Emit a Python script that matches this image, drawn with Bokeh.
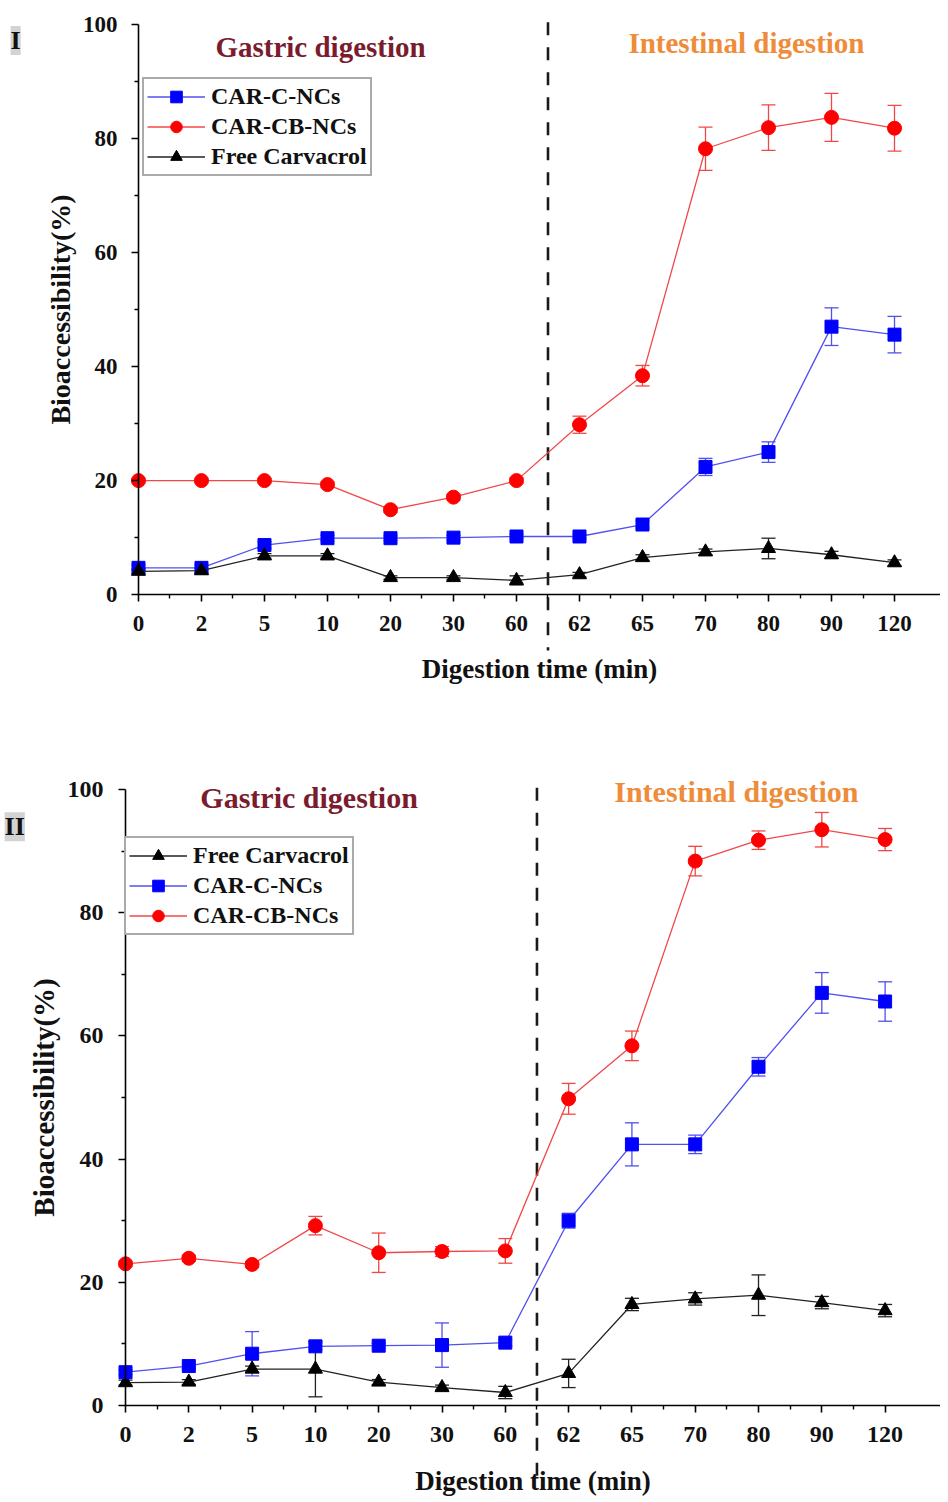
from bokeh.plotting import figure
from bokeh.models import (ColumnDataSource, Range1d, FixedTicker, Whisker, TeeHead,
                          Legend, LegendItem, Label)
from bokeh.layouts import column
from bokeh.embed import file_html
from bokeh.resources import INLINE

# ---------------- data ----------------
time_labels = ["0", "2", "5", "10", "20", "30", "60", "62", "65", "70", "80", "90", "120"]
phase_boundary = 6.5  # between 60 (gastric) and 62 (intestinal)

# Panel I
c_nc_1 = [4.7, 4.7, 8.7, 9.9, 9.9, 10.0, 10.2, 10.2, 12.3, 22.4, 25.0, 47.0, 45.6]
c_nc_1_err = [0.5, 0.5, 0.6, 0.5, 0.4, 0.4, 0.4, 0.4, 0.6, 1.5, 1.8, 3.3, 3.2]
cb_nc_1 = [20.0, 20.0, 20.0, 19.3, 14.9, 17.1, 20.0, 29.8, 38.4, 78.2, 81.9, 83.7, 81.8]
cb_nc_1_err = [0.4, 0.4, 0.4, 0.5, 0.5, 0.5, 0.5, 1.5, 1.8, 3.8, 4.0, 4.2, 4.0]
free_1 = [4.1, 4.2, 6.8, 6.8, 3.0, 3.0, 2.5, 3.5, 6.5, 7.5, 8.1, 7.0, 5.6]
free_1_err = [0.4, 0.4, 0.4, 0.4, 0.3, 0.3, 0.8, 0.4, 0.5, 0.5, 1.8, 0.6, 0.5]

# Panel II
free_2 = [3.7, 3.8, 5.9, 5.9, 3.8, 2.9, 2.1, 5.2, 16.4, 17.3, 17.9, 16.7, 15.4]
free_2_err = [0.4, 0.4, 0.5, 4.5, 0.4, 0.4, 1.0, 2.3, 1.0, 1.0, 3.3, 1.0, 1.0]
c_nc_2 = [5.4, 6.4, 8.4, 9.6, 9.7, 9.8, 10.2, 30.0, 42.4, 42.4, 55.0, 67.0, 65.6]
c_nc_2_err = [0.4, 0.4, 3.6, 0.5, 0.4, 3.6, 0.5, 1.2, 3.5, 1.5, 1.5, 3.3, 3.2]
cb_nc_2 = [23.0, 23.9, 22.9, 29.2, 24.8, 25.0, 25.1, 49.8, 58.4, 88.4, 91.8, 93.5, 91.9]
cb_nc_2_err = [0.4, 0.5, 0.5, 1.5, 3.2, 0.8, 2.0, 2.5, 2.4, 2.4, 1.5, 2.8, 1.8]

y_ticks = [0, 20, 40, 60, 80, 100]
y_minor = [10, 30, 50, 70, 90]

FONT = "Liberation Serif"

STYLE = {
    "CAR-C-NCs": dict(marker="square", color="#0000FF", line="#5050F0", size=13),
    "CAR-CB-NCs": dict(marker="circle", color="#FF0000", line="#F04848", size=14),
    "Free Carvacrol": dict(marker="triangle", color="#000000", line="#222222", size=14),
}


def make_panel(series, order, cfg):
    n = len(time_labels)
    xs = list(range(n))
    p = figure(width=cfg["width"], height=cfg["height"],
               x_range=Range1d(cfg["x_start"], cfg["x_end"]),
               y_range=Range1d(cfg["y_start"], cfg["y_end"]),
               output_backend="svg", toolbar_location=None,
               min_border_left=0, min_border_right=0,
               min_border_top=0, min_border_bottom=0)
    p.title.visible = False
    p.outline_line_color = None
    p.grid.visible = False
    p.background_fill_color = "white"

    # both axes drawn inside the frame, crossing at (0, 0)
    xa = p.xaxis[0]
    xa.fixed_location = 0
    xa.bounds = (0, cfg["x_end"])
    xa.ticker = FixedTicker(ticks=xs, minor_ticks=[i + 0.5 for i in range(n - 1)])
    xa.major_label_overrides = {i: lab for i, lab in enumerate(time_labels)}
    ya = p.yaxis[0]
    ya.fixed_location = 0
    ya.ticker = FixedTicker(ticks=y_ticks, minor_ticks=y_minor)
    ya.bounds = (0, 100)
    for ax in (xa, ya):
        ax.axis_line_color = "black"
        ax.axis_line_width = 1.6
        ax.major_tick_line_color = "black"
        ax.major_tick_line_width = 1.6
        ax.minor_tick_line_color = "black"
        ax.minor_tick_line_width = 1.4
        ax.major_tick_in = 0
        ax.major_tick_out = 7
        ax.minor_tick_in = 0
        ax.minor_tick_out = 4
        ax.major_label_text_font = FONT
        ax.major_label_text_font_style = "bold"
        ax.major_label_text_font_size = cfg["tick_fs"]
        ax.major_label_text_color = "#111111"
        ax.axis_label_text_font = FONT
        ax.axis_label_text_font_style = "bold"
        ax.axis_label_text_color = "#111111"
    xa.axis_label = "Digestion time (min)"
    xa.axis_label_text_font_size = cfg["xlab_fs"]
    xa.major_label_standoff = cfg["x_tick_standoff"]
    xa.axis_label_standoff = cfg["x_label_standoff"]
    ya.axis_label = "Bioaccessibility(%)"
    ya.axis_label_text_font_size = cfg["ylab_fs"]
    ya.major_label_standoff = cfg["y_tick_standoff"]
    ya.axis_label_standoff = cfg["y_label_standoff"]

    # phase boundary
    p.line(x=[phase_boundary, phase_boundary], y=[cfg["dash_top"], cfg["dash_bottom"]],
           line_color="#1a1a1a", line_width=2.6, line_dash="13 12")

    items = {}
    for name, (vals, errs) in series.items():
        st = STYLE[name]
        src = ColumnDataSource(dict(x=xs, y=vals,
                                    upper=[v + e for v, e in zip(vals, errs)],
                                    lower=[v - e for v, e in zip(vals, errs)]))
        w = Whisker(source=src, base="x", upper="upper", lower="lower", dimension="height",
                    line_color=st["line"], line_width=1.3, level="underlay",
                    upper_head=TeeHead(size=14, line_color=st["line"], line_width=1.3),
                    lower_head=TeeHead(size=14, line_color=st["line"], line_width=1.3))
        p.add_layout(w)
        lr = p.line("x", "y", source=src, line_color=st["line"], line_width=1.3)
        mr = p.scatter("x", "y", source=src, marker=st["marker"], size=st["size"],
                       fill_color=st["color"], line_color=st["color"])
        items[name] = [lr, mr]

    legend = Legend(items=[LegendItem(label=nm, renderers=items[nm]) for nm in order],
                    location=cfg["legend_loc"],
                    label_text_font=FONT, label_text_font_size=cfg["leg_fs"],
                    label_text_font_style="bold", label_text_color="#111111",
                    glyph_width=58, glyph_height=29, label_height=29, label_standoff=6,
                    spacing=1, padding=3, margin=0,
                    border_line_color="#555555", border_line_width=2,
                    background_fill_color="white", background_fill_alpha=1.0)
    p.add_layout(legend)

    p.add_layout(Label(x=cfg["gastric_xy"][0], y=cfg["gastric_xy"][1], text="Gastric digestion",
                       text_font=FONT, text_font_style="bold", text_font_size=cfg["phase_fs"],
                       text_color="#7A1C2E", text_align="center", text_baseline="middle"))
    p.add_layout(Label(x=cfg["intest_xy"][0], y=cfg["intest_xy"][1], text="Intestinal digestion",
                       text_font=FONT, text_font_style="bold", text_font_size=cfg["phase_fs"],
                       text_color="#EE8C3A", text_align="center", text_baseline="middle"))
    p.add_layout(Label(x=cfg["tag_xy"][0], y=cfg["tag_xy"][1], text=cfg["tag"],
                       text_font=FONT, text_font_style="bold", text_font_size="26px",
                       text_color="#111111", text_align="center", text_baseline="middle",
                       background_fill_color="#C8C8C8", background_fill_alpha=0.8))
    return p


cfg1 = dict(width=940, height=735, x_start=-2.19, x_end=12.73, y_start=-24.7, y_end=104.2,
            tick_fs="23px", xlab_fs="27px", ylab_fs="28px",
            x_tick_standoff=14, x_label_standoff=20, y_tick_standoff=14, y_label_standoff=4,
            dash_top=100.4, dash_bottom=-9.8, legend_loc=(142, 559), leg_fs="24px",
            gastric_xy=(2.89, 96.1), intest_xy=(9.65, 96.8), phase_fs="29px",
            tag="I", tag_xy=(-1.95, 97.2))
cfg2 = dict(width=940, height=766, x_start=-1.975, x_end=12.875, y_start=-15.6, y_end=108.8,
            tick_fs="24px", xlab_fs="27px", ylab_fs="29px",
            x_tick_standoff=15, x_label_standoff=20, y_tick_standoff=15, y_label_standoff=5,
            dash_top=100.3, dash_bottom=-12, legend_loc=(124, 566), leg_fs="24px",
            gastric_xy=(2.9, 98.7), intest_xy=(9.65, 99.7), phase_fs="30px",
            tag="II", tag_xy=(-1.75, 94.0))

p1 = make_panel({"CAR-C-NCs": (c_nc_1, c_nc_1_err),
                 "CAR-CB-NCs": (cb_nc_1, cb_nc_1_err),
                 "Free Carvacrol": (free_1, free_1_err)},
                ["CAR-C-NCs", "CAR-CB-NCs", "Free Carvacrol"], cfg1)
p2 = make_panel({"Free Carvacrol": (free_2, free_2_err),
                 "CAR-C-NCs": (c_nc_2, c_nc_2_err),
                 "CAR-CB-NCs": (cb_nc_2, cb_nc_2_err)},
                ["Free Carvacrol", "CAR-C-NCs", "CAR-CB-NCs"], cfg2)

layout = column(p1, p2, spacing=0)
open("out.html", "w").write(file_html(layout, INLINE))
